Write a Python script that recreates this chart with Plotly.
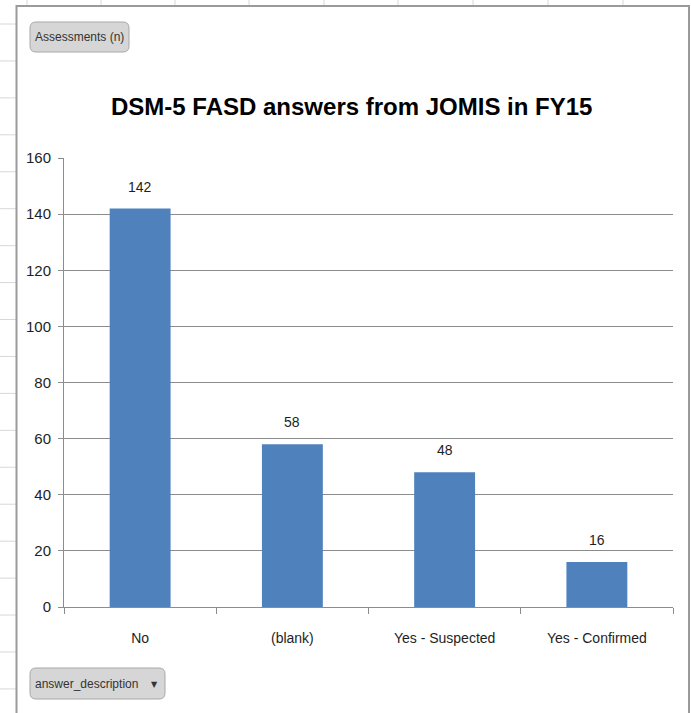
import plotly.graph_objects as go

# ---- data ----
categories = ["No", "(blank)", "Yes - Suspected", "Yes - Confirmed"]
values = [142, 58, 48, 16]
y_ticks = [0, 20, 40, 60, 80, 100, 120, 140, 160]
title_text = "DSM-5 FASD answers from JOMIS in FY15"
field_value = "Assessments (n)"
field_axis = "answer_description"

# ---- layout geometry (pixels) ----
W, H = 691, 713
L, R, T, B = 64, 18, 158, 106
PW, PH = W - L - R, H - T - B

def px(x):
    return (x - L) / PW

def py(y):
    return (H - B - y) / PH

FONT = "Liberation Sans, Arial, sans-serif"
GRID = "#8c8c8c"
TXT = "#1e1e1e"

def rounded_rect(x0, y0, x1, y1, r):
    pts = [
        f"M {px(x0 + r)},{py(y0)}",
        f"L {px(x1 - r)},{py(y0)}",
        f"Q {px(x1)},{py(y0)} {px(x1)},{py(y0 + r)}",
        f"L {px(x1)},{py(y1 - r)}",
        f"Q {px(x1)},{py(y1)} {px(x1 - r)},{py(y1)}",
        f"L {px(x0 + r)},{py(y1)}",
        f"Q {px(x0)},{py(y1)} {px(x0)},{py(y1 - r)}",
        f"L {px(x0)},{py(y0 + r)}",
        f"Q {px(x0)},{py(y0)} {px(x0 + r)},{py(y0)}",
        "Z",
    ]
    return " ".join(pts)

fig = go.Figure()
fig.add_trace(go.Bar(
    x=categories, y=values,
    marker=dict(color="#4F81BD", line=dict(width=0)),
    hoverinfo="x+y",
))

shapes = []
# spreadsheet cell grid behind the chart frame
for x in [27, 101, 175, 249, 324, 398, 473, 548, 623]:
    shapes.append(dict(type="line", xref="paper", yref="paper",
                       x0=px(x), x1=px(x), y0=py(0), y1=py(6),
                       line=dict(color="#d8d8d8", width=1), layer="below"))
for k in range(19):
    y = 24 + 36.94 * k
    shapes.append(dict(type="line", xref="paper", yref="paper",
                       x0=px(0), x1=px(16), y0=py(y), y1=py(y),
                       line=dict(color="#d8d8d8", width=1), layer="below"))
# chart frame
shapes.append(dict(type="rect", xref="paper", yref="paper",
                   x0=px(16.5), x1=px(689), y0=py(720), y1=py(6),
                   line=dict(color="#9a9a9a", width=2), fillcolor="rgba(0,0,0,0)",
                   layer="below"))
# field buttons
shapes.append(dict(type="path", xref="paper", yref="paper",
                   path=rounded_rect(30, 22, 129, 52, 6),
                   fillcolor="#d6d6d6", line=dict(color="#a8a8a8", width=1)))
shapes.append(dict(type="path", xref="paper", yref="paper",
                   path=rounded_rect(30, 668, 165, 699, 6),
                   fillcolor="#d6d6d6", line=dict(color="#a8a8a8", width=1)))

annotations = [
    dict(text=f"<b>{title_text}</b>", xref="paper", yref="paper",
         x=px(351.5), y=py(106), xanchor="center", yanchor="middle",
         showarrow=False, font=dict(family=FONT, size=24, color="#000000")),
    dict(text=field_value, xref="paper", yref="paper",
         x=px(79.5), y=py(37), xanchor="center", yanchor="middle",
         showarrow=False, font=dict(family=FONT, size=12, color="#333333")),
    dict(text=field_axis, xref="paper", yref="paper",
         x=px(33), y=py(684), xanchor="left", yanchor="middle",
         showarrow=False, font=dict(family=FONT, size=12, color="#333333")),
    dict(text="▼", xref="paper", yref="paper",
         x=px(154), y=py(684), xanchor="center", yanchor="middle",
         showarrow=False, font=dict(family="DejaVu Sans", size=8, color="#333333")),
]
for c, v in zip(categories, values):
    annotations.append(dict(text=str(v), x=c, y=v, xref="x", yref="y",
                            yshift=22, showarrow=False,
                            xanchor="center", yanchor="middle",
                            font=dict(family=FONT, size=14, color=TXT)))

fig.update_layout(
    width=W, height=H,
    margin=dict(l=L, r=R, t=T, b=B, pad=0),
    paper_bgcolor="white", plot_bgcolor="white",
    showlegend=False, bargap=0.6,
    shapes=shapes, annotations=annotations,
    font=dict(family=FONT, size=14, color=TXT),
)
fig.update_xaxes(
    type="category", showline=True, linecolor=GRID, linewidth=1,
    ticks="outside", tickson="boundaries", ticklen=6, tickcolor=GRID,
    showgrid=False, tickfont=dict(family=FONT, size=14, color=TXT),
    ticklabelstandoff=18,
)
fig.update_yaxes(
    range=[0, 160], tickvals=y_ticks, showline=True, linecolor=GRID, linewidth=1,
    ticks="outside", ticklen=5, tickcolor=GRID,
    showgrid=True, gridcolor=GRID, gridwidth=1, zeroline=False,
    tickfont=dict(family=FONT, size=15, color=TXT), ticklabelstandoff=4,
)

fig.write_html(
    "out.html",
    config={"displayModeBar": False},
    post_script="document.body.style.margin='0';document.body.style.overflow='hidden';",
)
